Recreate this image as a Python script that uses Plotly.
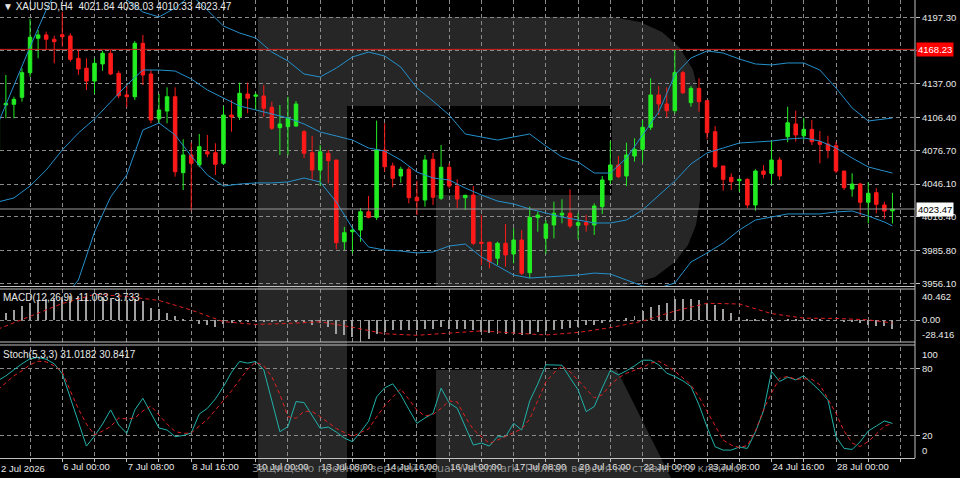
import plotly.graph_objects as go
from plotly.subplots import make_subplots

# XAUUSD H4 bars, index 0 = 2 Jul 16:00, index 8 = 6 Jul 00:00
bar_idx = list(range(112))
opens = [4077.0, 4117.8, 4118.4, 4124.8, 4147.1, 4178.3, 4181.3, 4177.4, 4181.5, 4180.4,
         4160.1, 4151.1, 4139.5, 4155.0, 4164.7, 4146.5, 4126.9, 4125.3, 4173.7, 4145.9,
         4105.1, 4112.3, 4125.3, 4056.4, 4072.5, 4063.4, 4075.4, 4074.5, 4064.9, 4108.7,
         4107.2, 4127.8, 4125.7, 4125.9, 4115.7, 4097.2, 4098.1, 4098.7, 4093.6, 4074.5,
         4058.8, 4074.0, 4067.9, 3993.8, 4002.9, 4004.4, 4021.0, 4015.9, 4077.0, 4062.5,
         4053.4, 4059.5, 4034.1, 4031.6, 4068.5, 4033.2, 4061.3, 4044.3, 4033.7, 4036.2,
         3993.3, 3993.3, 3978.8, 3992.4, 3982.7, 3995.4, 3965.7, 4015.6, 3996.9, 4009.0,
         4018.0, 4019.6, 4008.7, 4011.1, 4009.0, 4025.6, 4049.8, 4063.4, 4053.4, 4071.5,
         4077.6, 4097.6, 4126.9, 4118.7, 4112.6, 4147.1, 4119.9, 4132.9, 4121.7, 4093.6,
         4062.5, 4052.2, 4049.1, 4050.4, 4027.1, 4057.9, 4055.8, 4067.9, 4089.0, 4100.6,
         4089.9, 4095.7, 4084.5, 4082.4, 4080.9, 4057.9, 4041.6, 4046.1, 4029.6, 4038.3,
         4027.1, 4021.84]
highs = [4122.3, 4145.0, 4125.3, 4151.1, 4195.8, 4185.8, 4184.3, 4180.6, 4202.4, 4182.8,
         4167.7, 4160.1, 4160.1, 4167.0, 4167.7, 4148.6, 4135.9, 4175.8, 4181.3, 4149.5,
         4127.8, 4133.8, 4133.8, 4086.7, 4083.6, 4091.5, 4090.6, 4083.1, 4116.9, 4122.3,
         4138.0, 4138.0, 4128.7, 4135.9, 4120.8, 4117.8, 4125.3, 4121.4, 4095.1, 4089.7,
         4081.5, 4077.0, 4067.9, 4007.2, 4007.4, 4024.4, 4035.3, 4103.6, 4101.2, 4065.5,
         4061.8, 4061.8, 4049.1, 4072.4, 4074.5, 4081.5, 4064.9, 4050.4, 4036.4, 4044.3,
         4018.0, 3993.8, 3993.8, 4009.9, 4006.0, 4004.4, 4025.6, 4021.0, 4013.5, 4030.1,
         4032.3, 4041.3, 4019.6, 4018.0, 4028.6, 4053.4, 4085.1, 4071.5, 4083.6, 4087.6,
         4104.2, 4142.0, 4135.0, 4133.8, 4168.23, 4148.9, 4135.0, 4142.0, 4121.7, 4098.7,
         4062.5, 4055.9, 4050.4, 4051.3, 4059.5, 4063.4, 4086.0, 4070.4, 4116.2, 4112.6,
         4106.3, 4104.2, 4094.2, 4089.9, 4084.2, 4058.0, 4055.9, 4047.3, 4047.7, 4042.3,
         4030.1, 4038.03]
lows = [4072.4, 4105.7, 4105.7, 4120.8, 4143.4, 4160.1, 4167.7, 4155.6, 4170.7, 4157.1,
        4145.0, 4131.4, 4127.8, 4148.9, 4145.0, 4123.9, 4115.7, 4122.3, 4135.9, 4101.2,
        4101.2, 4101.2, 4052.8, 4040.7, 4021.9, 4061.3, 4070.4, 4054.3, 4063.4, 4093.6,
        4104.2, 4110.3, 4113.3, 4107.2, 4095.1, 4072.4, 4072.4, 4098.1, 4069.7, 4049.8,
        4044.3, 4046.8, 3986.9, 3986.3, 3983.3, 3993.8, 4015.0, 4013.5, 4057.3, 4043.2,
        4047.3, 4028.6, 4018.0, 4025.6, 4027.1, 4031.6, 4042.2, 4024.1, 4022.6, 3990.8,
        3972.7, 3969.7, 3972.7, 3971.2, 3974.2, 3963.6, 3960.6, 4002.9, 3982.7, 3996.9,
        4010.5, 4006.0, 3996.0, 4002.9, 3999.9, 4018.9, 4046.1, 4051.3, 4044.3, 4066.4,
        4065.5, 4095.1, 4108.7, 4106.6, 4110.3, 4127.8, 4116.2, 4111.7, 4086.7, 4060.4,
        4040.1, 4040.7, 4039.2, 4024.1, 4021.9, 4051.3, 4045.2, 4049.8, 4084.0, 4084.5,
        4086.0, 4081.5, 4064.9, 4069.5, 4056.1, 4040.7, 4034.6, 4017.4, 4010.5, 4019.6,
        4014.4, 4010.33]
closes = [4119.3, 4119.3, 4122.9, 4147.1, 4179.2, 4181.3, 4177.4, 4175.2, 4179.7, 4159.2,
          4150.4, 4139.5, 4155.6, 4164.7, 4145.9, 4126.2, 4125.3, 4173.7, 4145.0, 4104.2,
          4113.3, 4125.3, 4057.3, 4072.5, 4064.9, 4080.0, 4073.4, 4064.0, 4108.7, 4106.9,
          4128.4, 4123.9, 4126.9, 4114.8, 4096.7, 4100.6, 4105.7, 4118.7, 4074.0, 4058.8,
          4075.4, 4067.3, 3992.9, 4002.0, 4004.4, 4021.0, 4015.9, 4077.0, 4061.8, 4051.3,
          4059.5, 4033.7, 4031.0, 4067.9, 4034.1, 4061.3, 4044.3, 4032.5, 4035.9, 3992.4,
          3992.4, 3975.7, 3992.4, 3981.8, 3995.4, 3965.2, 4015.9, 4018.0, 4009.9, 4019.6,
          4019.6, 4008.1, 4011.1, 4009.0, 4026.2, 4049.8, 4063.4, 4052.8, 4072.5, 4077.6,
          4097.6, 4126.9, 4118.7, 4112.6, 4147.1, 4128.9, 4132.9, 4120.8, 4092.7, 4061.8,
          4050.4, 4048.2, 4050.4, 4027.1, 4057.9, 4054.9, 4067.9, 4053.4, 4101.7, 4090.6,
          4095.7, 4084.5, 4082.1, 4077.0, 4057.9, 4042.8, 4046.1, 4029.6, 4037.7, 4027.7,
          4021.7, 4023.47]

# Bollinger bands, read every second bar
band_idx = list(range(0, 111, 2)) + [111]
bb_upper = [4100.6, 4135.9, 4170.4, 4203.9, 4231.1, 4249.3, 4253.8, 4240.2, 4213.0, 4202.1,
            4197.6, 4205.7, 4217.5, 4203.9, 4189.4, 4183.1, 4178.5, 4165.8, 4157.7, 4145.9,
            4143.2, 4151.3, 4161.3, 4165.8, 4162.2, 4152.2, 4133.2, 4121.4, 4108.7, 4091.5,
            4088.8, 4086.0, 4088.8, 4091.5, 4080.6, 4070.6, 4066.1, 4056.1, 4056.1, 4069.7,
            4090.6, 4111.4, 4145.0, 4160.4, 4166.8, 4164.9, 4159.5, 4155.0, 4154.1, 4155.9,
            4155.9, 4149.5, 4133.2, 4115.1, 4103.3, 4105.1, 4106.0]
bb_middle = [4029.8, 4033.5, 4044.3, 4058.8, 4077.0, 4092.4, 4105.1, 4120.5, 4135.9, 4149.5,
             4149.5, 4148.6, 4141.4, 4131.4, 4124.1, 4116.9, 4113.3, 4109.6, 4106.0, 4100.6,
             4093.3, 4089.7, 4086.0, 4078.8, 4076.1, 4067.9, 4057.0, 4051.6, 4049.8, 4042.5,
             4036.2, 4030.7, 4028.0, 4023.5, 4019.9, 4016.2, 4013.5, 4010.8, 4010.8, 4013.5,
             4022.6, 4036.2, 4048.9, 4064.3, 4074.3, 4078.8, 4083.3, 4084.2, 4085.1, 4086.9,
             4087.9, 4085.1, 4078.8, 4069.7, 4061.6, 4057.9, 4056.1]
bb_lower = [3954.6, 3945.5, 3941.0, 3939.1, 3941.0, 3959.1, 4002.6, 4034.4, 4054.3, 4095.1,
            4101.5, 4090.6, 4071.5, 4054.3, 4044.3, 4046.1, 4047.1, 4047.1, 4048.0, 4051.6,
            4048.0, 4029.8, 4006.2, 3989.0, 3986.3, 3985.4, 3983.6, 3984.5, 3989.9, 3991.7,
            3980.0, 3971.8, 3963.6, 3960.9, 3961.8, 3962.7, 3963.6, 3965.4, 3964.5, 3959.1,
            3953.7, 3951.8, 3956.4, 3975.4, 3983.6, 3992.6, 4004.4, 4013.5, 4016.2, 4019.0,
            4019.0, 4019.0, 4020.8, 4021.7, 4017.1, 4011.7, 4008.1]

# MACD(12,26,9)
macd_hist = [5.2, 9.6, 13.1, 18.4, 22.3, 24.9, 27.6, 28.9, 30.2, 30.8,
             30.8, 30.2, 30.2, 29.5, 28.9, 27.6, 26.2, 27.6, 25.3, 15.4,
             14.0, 8.8, 5.2, 1.3, -0.7, -5.2, -6.6, -8.8, -5.2, -3.3,
             -2.0, -1.3, -1.3, -1.3, -2.0, -2.6, -2.6, -2.0, -3.9, -6.6,
             -4.3, -8.8, -17.4, -19.7, -21.9, -28.416, -24.3, -17.4, -15.4, -13.1,
             -13.1, -13.1, -13.1, -10.9, -10.9, -8.8, -10.9, -10.9, -10.9, -13.1,
             -15.4, -16.7, -17.4, -17.4, -18.4, -19.7, -17.4, -15.4, -14.0, -13.1,
             -10.9, -9.6, -8.8, -6.6, -6.6, -4.3, -2.2, -0.9, 2.2, 5.2,
             12.2, 16.7, 19.7, 21.9, 27.2, 27.2, 27.2, 26.2, 22.7, 19.7,
             14.0, 9.6, 4.3, 0.9, 0.6, 0.4, 0.3, -0.3, 0.5, 0.8,
             0.8, 0.5, 0.3, -0.5, -1.0, -2.0, -3.0, -4.3, -6.6, -7.5,
             -7.9, -11.063]
signal_idx = list(range(0, 109, 4)) + [111]
macd_signal = [-11.8, 5.2, 21.6, 33.5, 30.8, 25.6, 13.1, -2.0, -5.6, -4.3,
               -2.2, -9.2, -17.7, -19.7, -16.4, -14.0, -16.7, -19.3, -16.0, -9.8,
               -1.3, 11.8, 21.9, 21.0, 8.5, 2.6, 2.2, 0.4, -3.733]
macd_range = [-28.416, 40.462]

# Stochastic(5,3,3)
stoch_k = [69.2, 73.7, 79.1, 84.5, 89.0, 90.2, 88.6, 84.5, 75.5, 53.9,
           30.5, 10.7, 19.7, 30.5, 43.1, 29.6, 22.1, 43.1, 53.6, 40.1,
           26.9, 25.1, 19.1, 20.2, 22.4, 39.5, 44.5, 53.0, 64.1, 76.9,
           86.6, 85.1, 86.6, 79.1, 51.2, 23.6, 28.1, 50.6, 49.7, 37.7,
           26.6, 27.8, 23.3, 17.9, 14.6, 23.3, 32.8, 54.8, 62.9, 66.5,
           56.6, 43.6, 31.1, 35.9, 40.1, 62.6, 49.4, 44.6, 27.8, 11.6,
           13.4, 10.7, 19.1, 19.1, 31.1, 25.1, 51.2, 66.5, 83.6, 83.6,
           83.2, 71.9, 61.1, 41.6, 46.1, 62.9, 78.5, 74.6, 78.2, 82.7,
           87.7, 87.7, 83.6, 76.1, 73.1, 69.2, 64.1, 47.6, 27.8, 10.1,
           7.1, 7.1, 9.8, 8.6, 23.3, 42.2, 77.6, 68.6, 72.5, 70.1,
           73.7, 67.1, 60.2, 52.1, 19.1, 8.6, 7.7, 14.6, 24.2, 28.7,
           33.2, 31.0182]
stoch_d = [61.1, 67.4, 73.7, 78.2, 83.6, 86.8, 86.3, 82.7, 77.3, 60.2,
           44.0, 30.5, 20.6, 24.2, 28.3, 35.9, 35.0, 35.9, 42.2, 46.7,
           38.6, 30.5, 23.8, 22.1, 22.4, 28.7, 34.6, 43.1, 51.2, 60.2,
           70.1, 79.6, 85.9, 82.7, 72.8, 57.1, 37.1, 35.6, 41.8, 41.8,
           37.1, 31.4, 26.5, 22.9, 19.3, 22.9, 26.0, 36.8, 46.7, 54.8,
           62.0, 52.6, 43.1, 37.7, 39.1, 44.5, 51.2, 50.3, 36.8, 25.6,
           19.7, 13.1, 16.1, 19.3, 22.4, 26.0, 35.0, 52.1, 68.3, 76.4,
           82.7, 77.3, 70.1, 62.0, 53.9, 56.6, 65.6, 71.9, 76.0, 78.7,
           81.4, 85.0, 86.8, 82.7, 77.8, 71.9, 65.6, 54.8, 42.2, 28.7,
           16.1, 11.6, 9.4, 11.2, 24.2, 43.1, 58.4, 71.5, 73.1, 70.6,
           71.0, 70.6, 65.6, 53.0, 40.0, 24.2, 13.4, 10.3, 14.8, 21.5,
           28.7, 30.8417]

price_ticks = [3956.10, 3985.80, 4016.40, 4046.10, 4076.70, 4106.40, 4137.00, 4167.15, 4197.30]
price_range = [3953.66, 4213.0]
high_line = 4168.23
date_tick_idx = [8, 16, 24, 32, 40, 48, 56, 64, 72, 80, 88, 96, 104]
date_tick_text = ["6 Jul 00:00", "7 Jul 08:00", "8 Jul 16:00", "10 Jul 00:00", "13 Jul 08:00",
                  "14 Jul 16:00", "16 Jul 00:00", "17 Jul 08:00", "20 Jul 16:00", "22 Jul 00:00",
                  "23 Jul 08:00", "24 Jul 16:00", "28 Jul 00:00"]
first_date = "2 Jul 2026"

GREEN = "#22ee22"
RED = "#ff1a1a"
BAND = "#2490cc"
GRID = "#8a8a8a"
FRAME = "#c0c0c0"
TXT = "#e8e8e8"
WM = "#262626"
FONT = "Liberation Sans"

PW, PH = 915, 458  # plot area in px


def poly(points):
    # watermark outline given in screen pixels -> svg path in paper units
    pts = ["%.5f,%.5f" % (x / PW, 1 - y / PH) for x, y in points]
    return "M " + " L ".join(pts) + " Z"


fig = make_subplots(rows=3, cols=1, shared_xaxes=True, vertical_spacing=0.01)

fig.add_trace(go.Candlestick(x=bar_idx, open=opens, high=highs, low=lows, close=closes,
                             increasing=dict(line=dict(color=GREEN, width=1), fillcolor=GREEN),
                             decreasing=dict(line=dict(color=RED, width=1), fillcolor=RED),
                             whiskerwidth=0, hoverinfo="skip"), row=1, col=1)
for band in (bb_upper, bb_middle, bb_lower):
    fig.add_trace(go.Scatter(x=band_idx, y=band, mode="lines", line=dict(color=BAND, width=1),
                             hoverinfo="skip"), row=1, col=1)

fig.add_trace(go.Bar(x=bar_idx, y=macd_hist, width=0.12, marker=dict(color="#a0a0a0", line=dict(width=0)),
                     hoverinfo="skip"), row=2, col=1)
fig.add_trace(go.Scatter(x=signal_idx, y=macd_signal, mode="lines",
                         line=dict(color="#e02020", width=1, dash="4px,3px"), hoverinfo="skip"), row=2, col=1)

fig.add_trace(go.Scatter(x=bar_idx, y=stoch_k, mode="lines", line=dict(color="#20b2aa", width=1),
                         hoverinfo="skip"), row=3, col=1)
fig.add_trace(go.Scatter(x=bar_idx, y=stoch_d, mode="lines",
                         line=dict(color="#e02020", width=1, dash="4px,3px"), hoverinfo="skip"), row=3, col=1)

grid_idx = list(range(4, 113, 4))
grid_text = [date_tick_text[date_tick_idx.index(i)] if i in date_tick_idx else "" for i in grid_idx]

gridstyle = dict(showgrid=True, gridcolor=GRID, gridwidth=1, griddash="4px,3px", zeroline=False)
for r in (1, 2, 3):
    fig.update_xaxes(range=[0.273, 113.8], tickmode="array", tickvals=grid_idx, ticktext=grid_text,
                     showticklabels=(r == 3), row=r, col=1, **gridstyle)
fig.update_xaxes(ticks="outside", ticklen=3, tickcolor=FRAME, ticklabelposition="outside right",
                 tickfont=dict(family=FONT, size=9.5, color=TXT), showline=True, linecolor=FRAME,
                 row=3, col=1)
fig.update_xaxes(rangeslider_visible=False, row=1, col=1)

ystyle = dict(side="right", ticks="outside", ticklen=4, tickcolor=FRAME,
              tickfont=dict(family=FONT, size=9.5, color=TXT), **gridstyle)
fig.update_yaxes(range=price_range, tickmode="array", tickvals=price_ticks,
                 ticktext=["" if abs(v - high_line) < 2 else "%.2f" % v for v in price_ticks],
                 domain=[1 - 286 / PH, 1], row=1, col=1, **ystyle)
fig.update_yaxes(range=macd_range, tickmode="array", tickvals=[0], ticktext=["0.00"],
                 domain=[1 - 342 / PH, 1 - 289 / PH], row=2, col=1, **ystyle)
fig.update_yaxes(range=[0, 100], tickmode="array", tickvals=[20, 80], ticktext=["20", "80"],
                 domain=[0, 1 - 346.5 / PH], row=3, col=1, **ystyle)

wm = dict(type="path", xref="paper", yref="paper", fillcolor=WM, line=dict(width=0), layer="below")
shapes = [
    dict(wm, path=poly([(258, 17), (347, 17), (347, 478), (258, 478)])),
    dict(wm, path=poly([(347, 17), (612, 17), (640, 22), (662, 32), (680, 48), (693, 70), (700, 100),
                        (700, 200), (696, 225), (688, 245), (675, 262), (655, 277), (622, 287),
                        (436, 287), (436, 195), (612, 195), (612, 106), (347, 106)])),
    dict(wm, path=poly([(436, 370), (617, 370), (671, 478), (436, 478)])),
    dict(type="line", xref="paper", yref="y", x0=0, x1=1, y0=high_line, y1=high_line,
         line=dict(color="#d42020", width=1)),
    dict(type="line", xref="paper", yref="y", x0=0, x1=1, y0=closes[-1], y1=closes[-1],
         line=dict(color="#9a9a9a", width=1)),
]
# panel frames
for y in (286.5, 289, 342, 345):
    shapes.append(dict(type="line", xref="paper", yref="paper", x0=0, x1=1,
                       y0=1 - y / PH, y1=1 - y / PH, line=dict(color=FRAME, width=1)))
shapes.append(dict(type="line", xref="paper", yref="paper", x0=1, x1=1, y0=0, y1=1,
                   line=dict(color=FRAME, width=1)))

annotations = [
    dict(text="▼ XAUUSD,H4  %.2f %.2f %.2f %.2f" % (opens[-1], highs[-1], lows[-1], closes[-1]),
         xref="paper", yref="paper", x=0, y=1, xanchor="left", yanchor="top", xshift=1, yshift=1,
         showarrow=False, font=dict(family=FONT, size=10, color=TXT)),
    dict(text="MACD(12,26,9) %.3f %.3f" % (macd_hist[-1], macd_signal[-1]),
         xref="paper", yref="paper", x=0, y=1 - 297 / PH, xanchor="left", yanchor="middle", xshift=1,
         showarrow=False, font=dict(family=FONT, size=10, color=TXT)),
    dict(text="Stoch(5,3,3) %.4f %.4f" % (stoch_k[-1], stoch_d[-1]),
         xref="paper", yref="paper", x=0, y=1 - 354 / PH, xanchor="left", yanchor="middle", xshift=1,
         showarrow=False, font=dict(family=FONT, size=10, color=TXT)),
    dict(text="%.3f" % macd_range[1], xref="paper", yref="y2", x=1, y=macd_range[1], xanchor="left",
         yanchor="top", xshift=5, showarrow=False, font=dict(family=FONT, size=9.5, color=TXT)),
    dict(text="%.3f" % macd_range[0], xref="paper", yref="y2", x=1, y=macd_range[0], xanchor="left",
         yanchor="bottom", xshift=5, showarrow=False, font=dict(family=FONT, size=9.5, color=TXT)),
    dict(text="100", xref="paper", yref="y3", x=1, y=100, xanchor="left", yanchor="top", xshift=5,
         showarrow=False, font=dict(family=FONT, size=9.5, color=TXT)),
    dict(text="0", xref="paper", yref="y3", x=1, y=0, xanchor="left", yanchor="bottom", xshift=5,
         showarrow=False, font=dict(family=FONT, size=9.5, color=TXT)),
    dict(text="%.2f" % high_line, xref="paper", yref="y", x=1, y=high_line, xanchor="left",
         yanchor="middle", xshift=1, showarrow=False, bgcolor="#ff0000", borderpad=1,
         font=dict(family=FONT, size=9.5, color="white")),
    dict(text="%.2f" % closes[-1], xref="paper", yref="y", x=1, y=closes[-1], xanchor="left",
         yanchor="middle", xshift=1, showarrow=False, bgcolor="white", borderpad=1,
         font=dict(family=FONT, size=9.5, color="black")),
    dict(text=first_date, xref="paper", yref="paper", x=0, y=1 - 468 / PH, xanchor="left",
         yanchor="middle", xshift=-1, showarrow=False, font=dict(family=FONT, size=9.5, color=TXT)),
    dict(text="Защищено пробной версией Visual Watermark. Полная версия не ставит это клеймо.",
         xref="paper", yref="paper", x=250 / PW, y=1 - 469 / PH, xanchor="left", yanchor="middle",
         showarrow=False, font=dict(family="DejaVu Sans", size=11, color="rgba(160,160,160,0.85)")),
]

fig.update_layout(width=960, height=478, margin=dict(l=0, r=45, t=0, b=20),
                  paper_bgcolor="black", plot_bgcolor="rgba(0,0,0,0)",
                  showlegend=False, hovermode=False, boxgap=0.38, bargap=0,
                  font=dict(family=FONT, size=10, color=TXT),
                  shapes=shapes, annotations=annotations)

fig.write_html("out.html", config={"displayModeBar": False},
               post_script="document.body.style.margin='0';document.body.style.background='black';")
